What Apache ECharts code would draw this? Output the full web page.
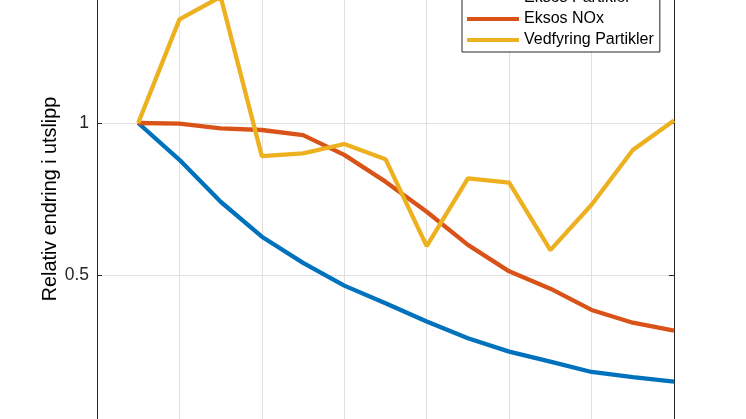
<!DOCTYPE html>
<html>
<head>
<meta charset="utf-8">
<script src="https://cdn.jsdelivr.net/npm/echarts@6/dist/echarts.min.js"></script>
<style>
html,body{margin:0;padding:0;background:#fff;}
#chart{width:746px;height:419px;}
</style>
</head>
<body>
<div id="chart"></div>
<script>
// x positions (time steps), 14 points
const xSteps = [1, 2, 3, 4, 5, 6, 7, 8, 9, 10, 11, 12, 13, 14];
const seriesNames = ['Eksos Partikler', 'Eksos NOx', 'Vedfyring Partikler'];
const eksosPartikler = [1.0, 0.879, 0.741, 0.626, 0.540, 0.465, 0.407, 0.347, 0.292, 0.248, 0.215, 0.181, 0.164, 0.149];
const eksosNOx = [1.0, 0.998, 0.982, 0.977, 0.960, 0.895, 0.807, 0.708, 0.599, 0.512, 0.455, 0.385, 0.343, 0.317];
const vedfyringPartikler = [1.0, 1.341, 1.415, 0.891, 0.900, 0.931, 0.881, 0.595, 0.818, 0.804, 0.582, 0.731, 0.911, 1.008];
const yTicks = [0, 0.5, 1, 1.5];
const yLabel = 'Relativ endring i utslipp';

const colors = ['#0072BD', '#D95319', '#EDB120'];
const values = [eksosPartikler, eksosNOx, vedfyringPartikler];
const axisColor = '#262626';
const font = 'Liberation Sans, Arial, Helvetica, sans-serif';

const chart = echarts.init(document.getElementById('chart'), null, {renderer: 'canvas'});
chart.setOption({
  animation: false,
  backgroundColor: '#fff',
  grid: {left: 97, right: 72, top: -29, bottom: -8, containLabel: false, outerBoundsMode: 'none'},
  legend: {
    orient: 'vertical',
    left: 462,
    top: -15,
    padding: [5, 6, 4, 5],
    itemGap: 5,
    itemWidth: 52,
    itemHeight: 4,
    icon: 'rect',
    backgroundColor: '#fff',
    borderColor: axisColor,
    borderWidth: 1,
    borderRadius: 0,
    z: 10,
    textStyle: {fontFamily: font, fontSize: 16, color: '#000', lineHeight: 16},
    data: seriesNames
  },
  xAxis: [{
    type: 'value', min: 0, max: 14, interval: 2,
    axisLine: {show: true, onZero: false, lineStyle: {color: axisColor}},
    axisTick: {show: true, inside: true, length: 5, lineStyle: {color: axisColor}},
    axisLabel: {show: false},
    splitLine: {show: true, lineStyle: {color: '#e0e0e0', width: 1}}
  }],
  yAxis: [{
    type: 'value', min: yTicks[0], max: yTicks[yTicks.length - 1], interval: 0.5,
    name: yLabel,
    nameLocation: 'middle',
    nameGap: 36,
    nameMoveOverlap: false,
    nameTextStyle: {fontFamily: font, fontSize: 19.8, color: '#000'},
    axisLine: {show: true, onZero: false, lineStyle: {color: axisColor}},
    axisTick: {show: true, inside: true, length: 5, lineStyle: {color: axisColor}},
    axisLabel: {show: true, margin: 8, fontFamily: font, fontSize: 17.5, color: axisColor,
      formatter: v => String(v)},
    splitLine: {show: true, lineStyle: {color: '#e0e0e0', width: 1}}
  }, {
    type: 'value', position: 'right', min: yTicks[0], max: yTicks[yTicks.length - 1], interval: 0.5,
    axisLine: {show: true, onZero: false, lineStyle: {color: axisColor}},
    axisTick: {show: true, inside: true, length: 5, lineStyle: {color: axisColor}},
    axisLabel: {show: false},
    splitLine: {show: false}
  }],
  series: seriesNames.map((name, i) => ({
    name: name,
    type: 'line',
    data: xSteps.map((x, j) => [x, values[i][j]]),
    symbol: 'none',
    smooth: false,
    color: colors[i],
    lineStyle: {width: 4.3, color: colors[i]},
    itemStyle: {color: colors[i]},
    z: 2 + i
  }))
});
</script>
</body>
</html>
